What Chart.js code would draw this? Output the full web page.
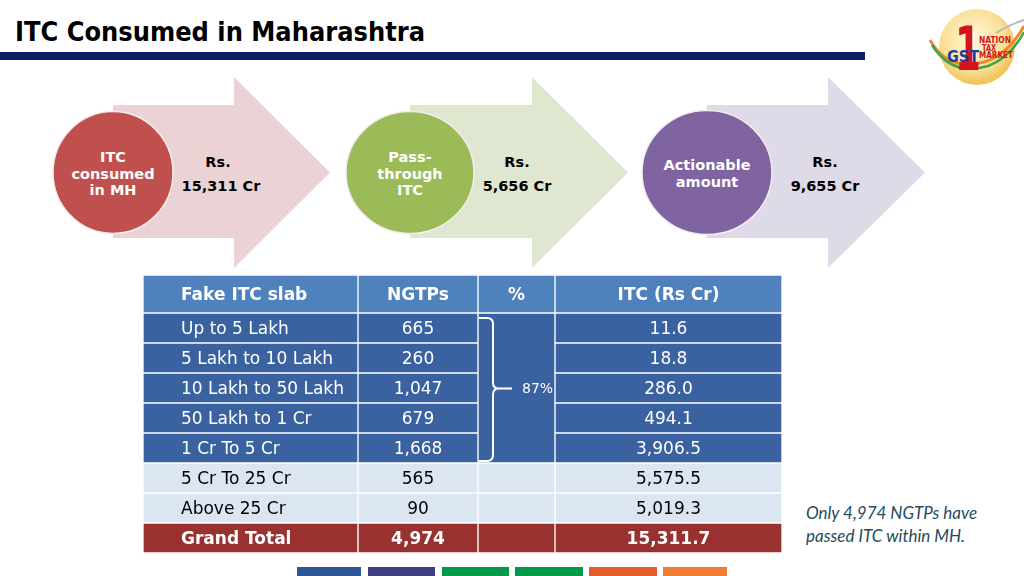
<!DOCTYPE html>
<html><head><meta charset="utf-8">
<script src="https://cdn.jsdelivr.net/npm/chart.js@4.4.1/dist/chart.umd.min.js"></script>
<style>
html,body{margin:0;padding:0;background:#fff;}
#slide{position:relative;width:1024px;height:576px;overflow:hidden;background:#fff;}
#bg{position:absolute;left:0;top:0;}
#headWrap{position:absolute;left:143px;top:275px;width:639px;height:38px;}
#bodyWrap{position:absolute;left:143px;top:313px;width:639px;height:240px;}
canvas{display:block;}
</style></head>
<body><div id="slide">
<svg id="bg" width="1024" height="576" xmlns="http://www.w3.org/2000/svg"></svg>
<div id="headWrap"><canvas id="head" width="639" height="38"></canvas></div>
<div id="bodyWrap"><canvas id="body" width="639" height="240"></canvas></div>
</div>
<script>
// ---------- DATA ----------
const slideTitle = 'ITC Consumed in Maharashtra';
const flowTitles = [['ITC', 'consumed', 'in MH'], ['Pass-', 'through', 'ITC'], ['Actionable', 'amount']];
const flowAmounts = ['15,311', '5,656', '9,655'];
const tableHeaders = ['Fake ITC slab', 'NGTPs', '%', 'ITC (Rs Cr)'];
const slabs = ['Up to 5 Lakh', '5 Lakh to 10 Lakh', '10 Lakh to 50 Lakh', '50 Lakh to 1 Cr', '1 Cr To 5 Cr', '5 Cr To 25 Cr', 'Above 25 Cr', 'Grand Total'];
const ngtps = [665, 260, 1047, 679, 1668, 565, 90, 4974];
const itcCr = [11.6, 18.8, 286.0, 494.1, 3906.5, 5575.5, 5019.3, 15311.7];
const shareLabel = '87%';
const shareRows = [0, 4];
const noteLines = ['Only 4,974 NGTPs have', 'passed ITC within MH.'];

// ---------- LAYOUT / STYLE ----------
const flowColors = ['#c0504d', '#9bbb59', '#8064a2'];
const arrowColors = ['#ebd3d5', '#dfe7d1', '#dedae7'];
const circleX = [113, 410, 707];
const circleRx = [60, 64, 65];
const circleRy = [61, 61, 62];
const headBase = [234, 532, 828];
const apexX = [330, 628, 925];
const rsX = [218, 517, 825];
const amtX = [221, 517, 825];
const barColors = ['#2e5597', '#3f3d84', '#009a4a', '#009a4a', '#e55b2c', '#f07c32'];
const barX = [297, 368, 442, 515, 589, 663];
const barW = [64, 67, 67, 68, 68, 64];
const colEdges = [0, 215, 335, 412, 639];
const fills = { head: '#4f81bd', dark: '#3b62a0', light: '#dce6f2', total: '#9a3131' };

// ---------- SVG BACKGROUND ----------
const FONT = "DejaVu Sans";
let s = '';
s += `<defs><radialGradient id="lg" cx="45%" cy="40%" r="62%"><stop offset="0" stop-color="#fff9dc"/><stop offset="0.65" stop-color="#fae097"/><stop offset="1" stop-color="#efbd4c"/></radialGradient></defs>`;
s += `<text x="15" y="41" font-family="${FONT}" font-weight="bold" font-size="27" textLength="410" lengthAdjust="spacingAndGlyphs" fill="#000">${slideTitle}</text>`;
s += `<rect x="0" y="52" width="865" height="8" fill="#0c2161"/>`;
// logo
s += `<circle cx="977" cy="47" r="38" fill="url(#lg)"/>`;
s += `<path d="M930 40 Q948 72 984 62 Q1008 55 1024 26" stroke="#f08a24" stroke-width="3" fill="none"/>`;
s += `<path d="M932 45 Q952 77 988 66 Q1010 58 1024 32" stroke="#3aa54a" stroke-width="2.5" fill="none"/>`;
s += `<path d="M996 33 Q1010 24 1024 20" stroke="#b9b9b9" stroke-width="2" fill="none"/>`;
s += `<text x="955" y="70" font-family="${FONT}" font-weight="bold" font-size="60" textLength="26" lengthAdjust="spacingAndGlyphs" fill="#d3141c">1</text>`;
s += `<text x="947" y="62" font-family="${FONT}" font-weight="bold" font-size="15" textLength="32" lengthAdjust="spacingAndGlyphs" fill="#1b3f9c">GST</text>`;
s += `<text x="979" y="43" font-family="${FONT}" font-weight="bold" font-size="8.5" textLength="32" lengthAdjust="spacingAndGlyphs" fill="#d3141c">NATION</text>`;
s += `<text x="982" y="50.5" font-family="${FONT}" font-weight="bold" font-size="8.5" textLength="14" lengthAdjust="spacingAndGlyphs" fill="#d3141c">TAX</text>`;
s += `<text x="979" y="58" font-family="${FONT}" font-weight="bold" font-size="8.5" textLength="34" lengthAdjust="spacingAndGlyphs" fill="#d3141c">MARKET</text>`;
// arrows + circles
const cy = 172.5;
flowTitles.forEach((lines, i) => {
  const cx = circleX[i], hb = headBase[i], ap = apexX[i];
  s += `<polygon points="${cx},105 ${hb},105 ${hb},77 ${ap},${cy} ${hb},268 ${hb},238 ${cx},238" fill="${arrowColors[i]}"/>`;
  s += `<ellipse cx="${cx}" cy="${cy}" rx="${circleRx[i]}" ry="${circleRy[i]}" fill="${flowColors[i]}" stroke="#f4ecec" stroke-width="1.5"/>`;
  lines.forEach((ln, k) => {
    const y = cy + 6 + (k - (lines.length - 1) / 2) * 16.7;
    s += `<text x="${cx}" y="${y}" text-anchor="middle" font-family="${FONT}" font-weight="bold" font-size="14.5" fill="#fff">${ln}</text>`;
  });
  s += `<text x="${rsX[i]}" y="166.7" text-anchor="middle" font-family="${FONT}" font-weight="bold" font-size="14.5" fill="#000">Rs.</text>`;
  s += `<text x="${amtX[i]}" y="190.7" text-anchor="middle" font-family="${FONT}" font-weight="bold" font-size="14.5" fill="#000">${flowAmounts[i]} Cr</text>`;
});
// footnote
noteLines.forEach((ln, k) => {
  s += `<text x="806" y="${519 + k * 23}" font-family="Lato" font-style="italic" font-size="17" fill="#244b5c">${ln}</text>`;
});
// bottom bars
barColors.forEach((c, i) => { s += `<rect x="${barX[i]}" y="567" width="${barW[i]}" height="9" fill="${c}"/>`; });
document.getElementById('bg').innerHTML = s;

// ---------- TABLE (Chart.js floating bars as cells) ----------
const rowKinds = slabs.map((_, r) => r <= shareRows[1] ? 'dark' : (r < slabs.length - 1 ? 'light' : 'total'));
const fmtInt = v => v.toLocaleString('en-US');
const fmtDec = v => v.toLocaleString('en-US', { minimumFractionDigits: 1, maximumFractionDigits: 1 });

function textPlugin(cellFn, extra) {
  return {
    id: 'cellText',
    afterDatasetsDraw(chart) {
      const ctx = chart.ctx;
      chart.data.datasets.forEach((ds, c) => {
        chart.getDatasetMeta(c).data.forEach((bar, r) => {
          const t = cellFn(c, r);
          if (!t) return;
          const p = bar.getProps(['x', 'y', 'base'], true);
          ctx.save();
          ctx.font = `${t.bold ? 'bold ' : ''}17px "${FONT}"`;
          ctx.fillStyle = t.color;
          ctx.textBaseline = 'middle';
          if (c === 0) { ctx.textAlign = 'left'; ctx.fillText(t.text, Math.min(p.x, p.base) + 38, p.y + 1.5); }
          else { ctx.textAlign = 'center'; ctx.fillText(t.text, (p.x + p.base) / 2, p.y + 1.5); }
          ctx.restore();
        });
      });
      if (extra) extra(chart);
    }
  };
}

function baseOptions(maxX) {
  return {
    indexAxis: 'y', responsive: false, animation: false, events: [],
    layout: { padding: 0 },
    plugins: { legend: { display: false }, tooltip: { enabled: false } },
    scales: { x: { type: 'linear', min: 0, max: maxX, display: false }, y: { display: false, offset: true } }
  };
}

const W = colEdges[colEdges.length - 1];

// header
new Chart(document.getElementById('head'), {
  type: 'bar',
  data: {
    labels: ['header'],
    datasets: tableHeaders.map((h, c) => ({
      data: [[colEdges[c], colEdges[c + 1]]],
      backgroundColor: fills.head, borderColor: '#ffffff', borderWidth: 1, borderSkipped: false,
      grouped: false, categoryPercentage: 1, barPercentage: 1
    }))
  },
  options: baseOptions(W),
  plugins: [textPlugin((c) => ({ text: tableHeaders[c], bold: true, color: '#ffffff' }))]
});

// body
function cellValue(c, r) {
  if (c === 0) return slabs[r];
  if (c === 1) return fmtInt(ngtps[r]);
  if (c === 3) return fmtDec(itcCr[r]);
  return null;
}
function braceDraw(chart) {
  const meta = chart.getDatasetMeta(2);
  const a = meta.data[shareRows[0]].getProps(['x', 'y', 'base', 'height'], true);
  const b = meta.data[shareRows[1]].getProps(['x', 'y', 'base', 'height'], true);
  const L = Math.min(a.x, a.base);
  const top = a.y - a.height / 2 + 5, bot = b.y + b.height / 2 - 2, mid = (a.y + b.y) / 2 + 0.5;
  const ctx = chart.ctx;
  ctx.save();
  ctx.strokeStyle = '#ffffff'; ctx.lineWidth = 2; ctx.lineJoin = 'round';
  ctx.beginPath();
  ctx.moveTo(L + 1, top); ctx.lineTo(L + 9, top);
  ctx.quadraticCurveTo(L + 15, top, L + 15, top + 6);
  ctx.lineTo(L + 15, mid - 6);
  ctx.quadraticCurveTo(L + 15, mid, L + 21, mid);
  ctx.quadraticCurveTo(L + 15, mid, L + 15, mid + 6);
  ctx.lineTo(L + 15, bot - 6);
  ctx.quadraticCurveTo(L + 15, bot, L + 9, bot);
  ctx.lineTo(L + 1, bot);
  ctx.moveTo(L + 20, mid); ctx.lineTo(L + 34, mid);
  ctx.stroke();
  ctx.font = `14px "${FONT}"`; ctx.fillStyle = '#ffffff'; ctx.textAlign = 'left'; ctx.textBaseline = 'middle';
  ctx.fillText(shareLabel, L + 44, mid + 1);
  ctx.restore();
}
new Chart(document.getElementById('body'), {
  type: 'bar',
  data: {
    labels: slabs,
    datasets: tableHeaders.map((h, c) => ({
      data: slabs.map(() => [colEdges[c], colEdges[c + 1]]),
      backgroundColor: rowKinds.map(k => fills[k]),
      borderColor: '#ffffff',
      borderWidth: (ctx) => {
        const r = ctx.dataIndex;
        if (c === 2 && r >= shareRows[0] && r <= shareRows[1]) {
          return { left: 1, right: 1, top: r === shareRows[0] ? 1 : 0, bottom: r === shareRows[1] ? 1 : 0 };
        }
        return 1;
      },
      borderSkipped: false, grouped: false, categoryPercentage: 1, barPercentage: 1
    }))
  },
  options: baseOptions(W),
  plugins: [textPlugin((c, r) => {
    const t = cellValue(c, r);
    if (t === null) return null;
    const k = rowKinds[r];
    return { text: t, bold: k === 'total', color: k === 'light' ? '#000000' : '#ffffff' };
  }, braceDraw)]
});
</script>
</body></html>
